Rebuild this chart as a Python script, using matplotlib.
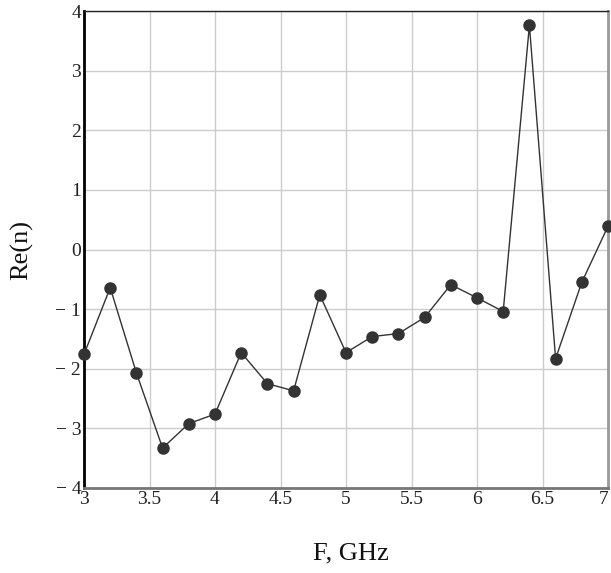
import matplotlib
matplotlib.use("Agg")
import matplotlib.pyplot as plt

freq = [3.0, 3.2, 3.4, 3.6, 3.8, 4.0, 4.2, 4.4, 4.6, 4.8, 5.0,
        5.2, 5.4, 5.6, 5.8, 6.0, 6.2, 6.4, 6.6, 6.8, 7.0]
re_n = [-1.76, -0.64, -2.07, -3.33, -2.92, -2.76, -1.73, -2.25, -2.37, -0.76, -1.73,
        -1.46, -1.41, -1.14, -0.59, -0.81, -1.04, 3.76, -1.83, -0.55, 0.39]
xticks = [3, 3.5, 4, 4.5, 5, 5.5, 6, 6.5, 7]
xticklabels = ["3", "3.5", "4", "4.5", "5", "5.5", "6", "6.5", "7"]
yticks = [-4, -3, -2, -1, 0, 1, 2, 3, 4]
yticklabels = ["\u2212 4", "\u2212 3", "\u2212 2", "\u2212 1", "0", "1", "2", "3", "4"]

plt.rcParams['font.family'] = ['Liberation Serif', 'DejaVu Serif']

fig = plt.figure(figsize=(6.11, 5.73), dpi=100)
W, H = 611, 573
ax = fig.add_axes([84 / W, (H - 488) / H, (608 - 84) / W, (488 - 11) / H])

ax.plot(freq, re_n, color='#333333', linewidth=1.0, marker='o', markersize=8,
        markerfacecolor='#333333', markeredgecolor='#333333', clip_on=False, zorder=3)

ax.set_xlim(3, 7)
ax.set_ylim(-4, 4)
ax.set_xticks(xticks)
ax.set_xticklabels(xticklabels, fontsize=14, color='#222222')
ax.set_yticks(yticks)
ax.set_yticklabels(yticklabels, fontsize=14, color='#222222')
ax.tick_params(length=0, pad=2)
# keep the last x tick label inside the figure
ax.get_xticklabels()[-1].set_horizontalalignment('right')
ax.grid(True, color='#cccccc', linewidth=1.0)
ax.set_axisbelow(True)

ax.spines['left'].set_color('black')
ax.spines['left'].set_linewidth(2.0)
ax.spines['bottom'].set_color('#777777')
ax.spines['bottom'].set_linewidth(2.0)
ax.spines['top'].set_color('#222222')
ax.spines['top'].set_linewidth(1.0)
ax.spines['right'].set_color('#999999')
ax.spines['right'].set_linewidth(2.0)

fig.text(351 / W, 1 - 553 / H, "F, GHz", fontsize=19, ha='center', va='center', color='#111111')
fig.text(22 / W, 1 - 250 / H, "Re(n)", fontsize=19, ha='center', va='center', rotation=90, color='#111111')

fig.savefig("out.png", dpi=100)
